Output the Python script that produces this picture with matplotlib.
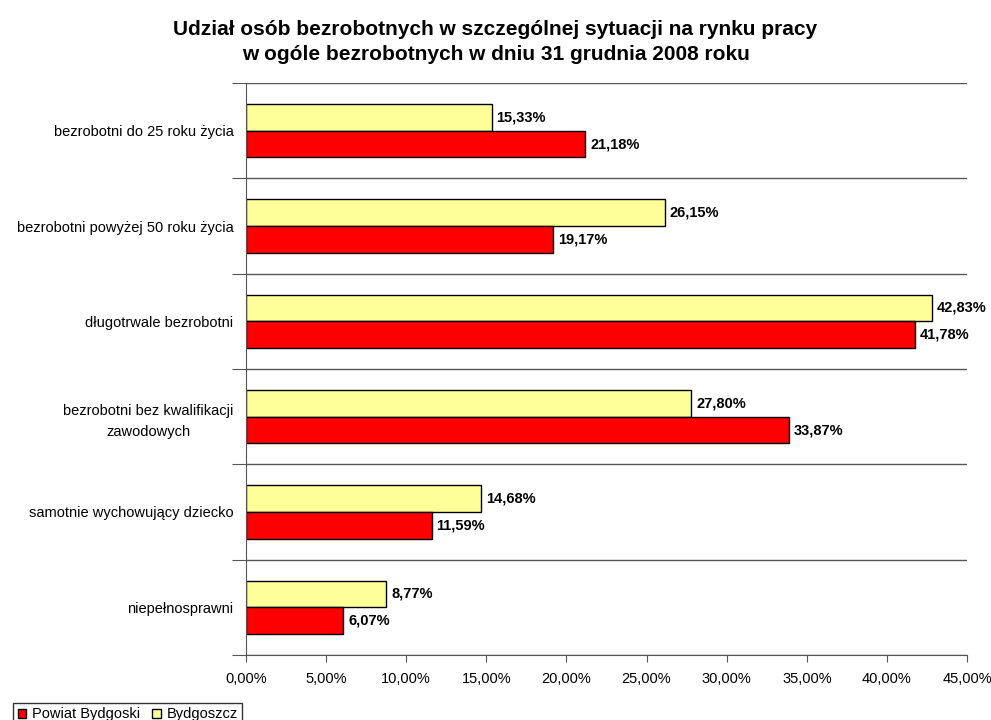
import numpy as np
import matplotlib.pyplot as plt
from matplotlib.ticker import FuncFormatter

plt.rcParams['font.family'] = ['Liberation Sans', 'DejaVu Sans']

categories = ['bezrobotni do 25 roku życia',
              'bezrobotni powyżej 50 roku życia',
              'długotrwale bezrobotni',
              'bezrobotni bez kwalifikacji\nzawodowych',
              'samotnie wychowujący dziecko',
              'niepełnosprawni']
powiat = [21.18, 19.17, 41.78, 33.87, 11.59, 6.07]
bydgoszcz = [15.33, 26.15, 42.83, 27.80, 14.68, 8.77]

fig = plt.figure(figsize=(9.91, 7.2), dpi=100)
ax = fig.add_axes([0.2482, 0.0903, 0.7276, 0.7944])

n = len(categories)
y = np.arange(n) + 0.5
h = 0.28
ax.barh(y - h / 2, bydgoszcz, height=h, color='#ffff99', edgecolor='black', linewidth=1, label='Bydgoszcz')
ax.barh(y + h / 2, powiat, height=h, color='#ff0000', edgecolor='black', linewidth=1, label='Powiat Bydgoski')

fmt = lambda v: f'{v:.2f}%'.replace('.', ',')
for yi, v in zip(y - h / 2, bydgoszcz):
    ax.text(v + 0.3, yi, fmt(v), va='center', ha='left', fontsize=10.5, fontweight='bold')
for yi, v in zip(y + h / 2, powiat):
    ax.text(v + 0.3, yi, fmt(v), va='center', ha='left', fontsize=10.5, fontweight='bold')

ax.set_xlim(0, 45)
ax.set_ylim(n, 0)
ax.set_xticks(np.arange(0, 46, 5))
ax.xaxis.set_major_formatter(FuncFormatter(lambda v, p: fmt(v)))
ax.tick_params(axis='x', direction='out', length=5, labelsize=10.5, color='#555555', pad=7)

ax.set_yticks(np.arange(n + 1))
ax.set_yticklabels([])
ax.set_yticks(y, minor=True)
ax.set_yticklabels(categories, minor=True, fontsize=10.5, ha='right', multialignment='center',
                   linespacing=1.6)
ax.tick_params(axis='y', which='major', direction='out', length=10, color='#555555')
ax.tick_params(axis='y', which='minor', length=0, pad=9)
ax.grid(axis='y', which='major', color='#555555', linewidth=1)
ax.set_axisbelow(True)

for s in ['top', 'right']:
    ax.spines[s].set_visible(False)
ax.spines['left'].set_color('#555555')
ax.spines['bottom'].set_color('#555555')

fig.text(0.5, 0.941, 'Udział osób bezrobotnych w szczególnej sytuacji na rynku pracy\n'
         'w ogóle bezrobotnych w dniu 31 grudnia 2008 roku',
         ha='center', va='center', fontsize=15, fontweight='bold', linespacing=1.4)

handles, labels = ax.get_legend_handles_labels()
leg = fig.legend(handles[::-1], labels[::-1], loc='lower left', bbox_to_anchor=(0.006, -0.018),
                 ncol=2, fontsize=10.5, frameon=True, fancybox=False, edgecolor='black',
                 handlelength=0.6, handleheight=0.6, handletextpad=0.4, columnspacing=0.8,
                 borderpad=0.3)
leg.get_frame().set_linewidth(1)

plt.savefig('out.png', dpi=100)
